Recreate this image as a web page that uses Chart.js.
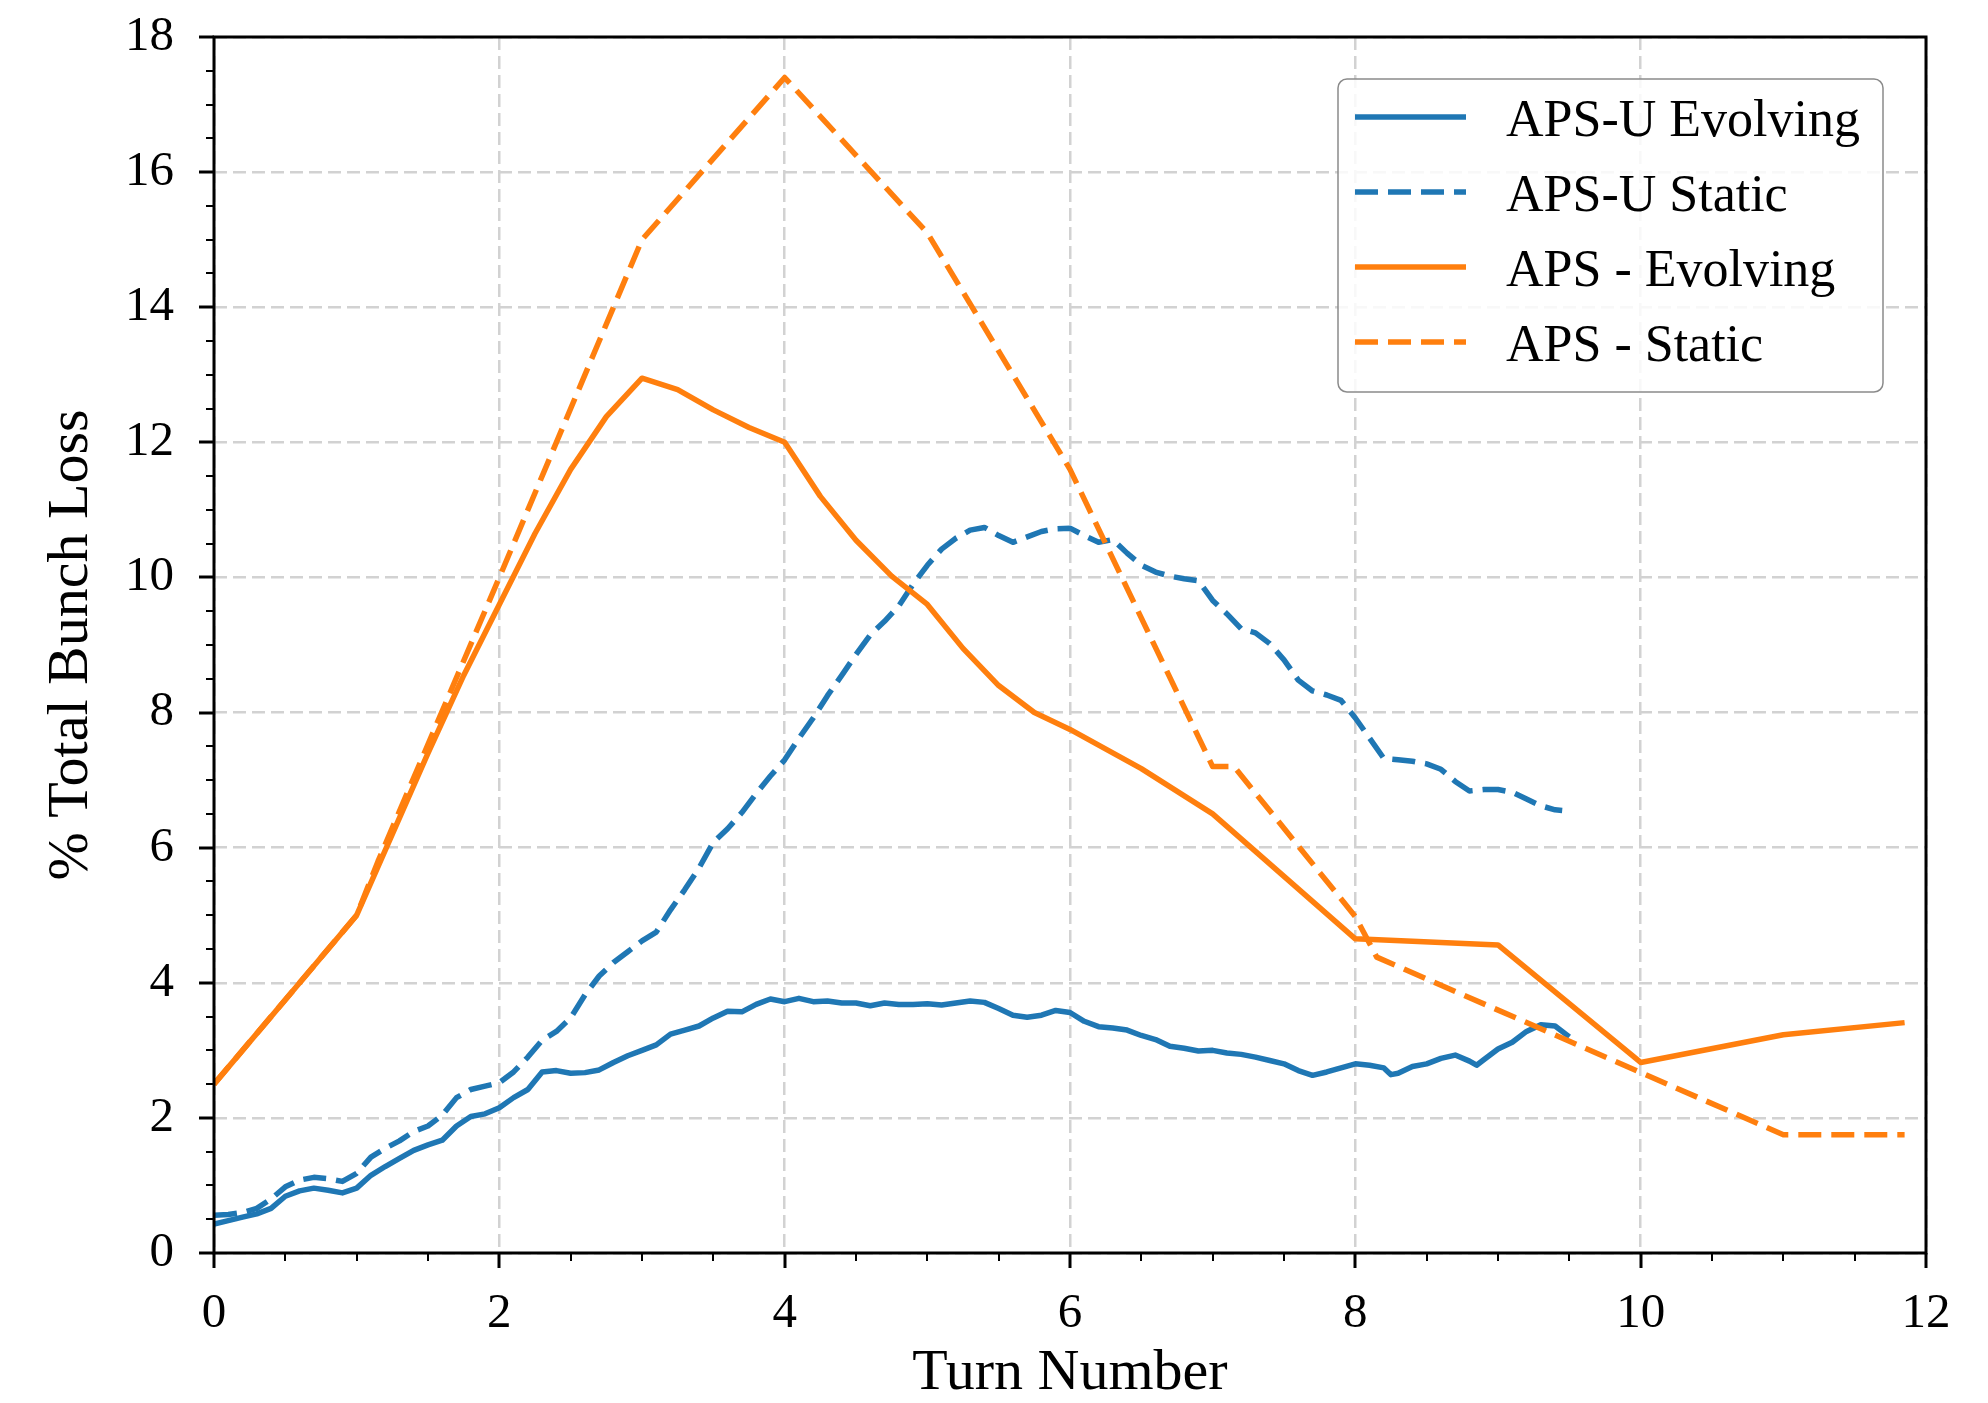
<!DOCTYPE html>
<html>
<head>
<meta charset="utf-8">
<script src="https://cdn.jsdelivr.net/npm/chart.js@4.4.1/dist/chart.umd.min.js"></script>
<style>
  html, body { margin: 0; padding: 0; background: #fff; }
  #wrap { width: 1988px; height: 1403px; }
</style>
</head>
<body>
<div id="wrap"><canvas id="myChart" width="1988" height="1403"></canvas></div>
<script>
// APS-U Evolving (blue solid)
const turnsUEvolving = [0.0, 0.1, 0.2, 0.3, 0.4, 0.5, 0.6, 0.7, 0.8, 0.9, 1.0, 1.1, 1.2, 1.3, 1.4, 1.5, 1.6, 1.7, 1.8, 1.9,
  2.0, 2.1, 2.2, 2.3, 2.4, 2.5, 2.6, 2.7, 2.8, 2.9, 3.0, 3.1, 3.2, 3.3, 3.4, 3.5, 3.6, 3.7, 3.8, 3.9,
  4.0, 4.1, 4.2, 4.3, 4.4, 4.5, 4.6, 4.7, 4.8, 4.9, 5.0, 5.1, 5.2, 5.3, 5.4, 5.5, 5.6, 5.7, 5.8, 5.9,
  6.0, 6.1, 6.2, 6.3, 6.4, 6.5, 6.6, 6.7, 6.8, 6.9, 7.0, 7.1, 7.2, 7.3, 7.4, 7.5, 7.6, 7.7, 7.8, 7.9,
  8.0, 8.1, 8.2, 8.25, 8.3, 8.4, 8.5, 8.6, 8.7, 8.8, 8.85, 8.9, 9.0, 9.1, 9.2, 9.3, 9.4, 9.5];
const lossUEvolving = [0.43, 0.48, 0.53, 0.58, 0.66, 0.84, 0.92, 0.96, 0.93, 0.89, 0.96, 1.15, 1.28, 1.40, 1.52, 1.60, 1.67, 1.88, 2.02, 2.06,
  2.15, 2.30, 2.42, 2.68, 2.70, 2.66, 2.67, 2.71, 2.82, 2.92, 3.00, 3.08, 3.24, 3.30, 3.36, 3.48, 3.58, 3.57, 3.68, 3.76,
  3.72, 3.77, 3.72, 3.73, 3.70, 3.70, 3.66, 3.70, 3.68, 3.68, 3.69, 3.67, 3.70, 3.73, 3.71, 3.62, 3.52, 3.49, 3.52, 3.59,
  3.56, 3.43, 3.35, 3.33, 3.30, 3.22, 3.16, 3.06, 3.03, 2.99, 3.00, 2.96, 2.94, 2.90, 2.85, 2.80, 2.70, 2.63, 2.68, 2.74,
  2.80, 2.78, 2.74, 2.64, 2.66, 2.76, 2.80, 2.88, 2.93, 2.84, 2.78, 2.86, 3.02, 3.12, 3.28, 3.38, 3.36, 3.20];

// APS-U Static (blue dashed)
const turnsUStatic = [0.0, 0.1, 0.2, 0.3, 0.4, 0.5, 0.6, 0.7, 0.8, 0.9, 1.0, 1.1, 1.2, 1.3, 1.4, 1.5, 1.6, 1.7, 1.8, 1.9,
  2.0, 2.1, 2.2, 2.3, 2.4, 2.5, 2.6, 2.7, 2.8, 2.9, 3.0, 3.1, 3.2, 3.3, 3.4, 3.5, 3.6, 3.7, 3.8, 3.9,
  4.0, 4.1, 4.2, 4.3, 4.4, 4.5, 4.6, 4.7, 4.8, 4.9, 5.0, 5.1, 5.2, 5.3, 5.4, 5.5, 5.6, 5.7, 5.8, 5.9,
  6.0, 6.1, 6.2, 6.3, 6.4, 6.5, 6.6, 6.7, 6.8, 6.9, 7.0, 7.1, 7.2, 7.3, 7.4, 7.5, 7.6, 7.7, 7.8, 7.9,
  8.0, 8.1, 8.2, 8.3, 8.4, 8.5, 8.6, 8.7, 8.8, 8.9, 9.0, 9.1, 9.2, 9.3, 9.4, 9.45];
const lossUStatic = [0.56, 0.57, 0.60, 0.66, 0.80, 0.98, 1.08, 1.12, 1.10, 1.06, 1.18, 1.42, 1.55, 1.66, 1.80, 1.88, 2.04, 2.30, 2.42, 2.47,
  2.52, 2.68, 2.90, 3.15, 3.28, 3.48, 3.82, 4.10, 4.30, 4.46, 4.62, 4.75, 5.08, 5.38, 5.70, 6.08, 6.28, 6.52, 6.80, 7.06,
  7.30, 7.62, 7.92, 8.25, 8.55, 8.86, 9.15, 9.35, 9.58, 9.90, 10.18, 10.42, 10.58, 10.70, 10.74, 10.62, 10.52, 10.60, 10.68, 10.72,
  10.73, 10.62, 10.52, 10.56, 10.36, 10.18, 10.08, 10.02, 9.98, 9.95, 9.66, 9.46, 9.24, 9.18, 9.02, 8.78, 8.48, 8.32, 8.26, 8.18,
  7.92, 7.62, 7.32, 7.30, 7.28, 7.24, 7.16, 6.98, 6.84, 6.86, 6.86, 6.82, 6.72, 6.62, 6.56, 6.55];

// APS - Evolving (orange solid)
const turnsEvolving = [0, 0.5, 1, 1.25, 1.5, 1.75, 2, 2.25, 2.5, 2.75, 3, 3.25, 3.5, 3.75, 4, 4.25, 4.5, 4.75, 5,
  5.25, 5.5, 5.75, 6, 6.5, 7, 8, 9, 10, 11, 11.85];
const lossEvolving = [2.5, 3.75, 5.0, 6.2, 7.4, 8.55, 9.6, 10.65, 11.6, 12.38, 12.95, 12.78, 12.48, 12.22, 12.0, 11.2, 10.55, 10.02, 9.6,
  8.95, 8.4, 8.0, 7.75, 7.17, 6.5, 4.65, 4.56, 2.82, 3.23, 3.41];

// APS - Static (orange dashed)
const turnsStatic = [0, 1, 1.15, 2, 3, 4, 5, 6, 7, 7.15, 8, 8.15, 11, 11.85];
const lossStatic = [2.5, 5.0, 5.8, 10.0, 15.0, 17.4, 15.1, 11.6, 7.2, 7.2, 4.98, 4.38, 1.75, 1.75];

const seriesLabels = ['APS-U Evolving', 'APS-U Static', 'APS - Evolving', 'APS - Static'];
const xTicks = [0, 2, 4, 6, 8, 10, 12];
const yTicks = [0, 2, 4, 6, 8, 10, 12, 14, 16, 18];

const blue = '#1f77b4';
const orange = '#ff7f0e';
const dashed = [23, 10];
const serif = '"Liberation Serif", "Times New Roman", serif';

function pts(xs, ys) {
  return xs.map((x, i) => ({ x: x, y: ys[i] }));
}

function makeSet(label, xs, ys, color, dash, order) {
  return {
    label: label,
    data: pts(xs, ys),
    borderColor: color,
    backgroundColor: color,
    borderWidth: 5.5,
    borderDash: dash,
    borderJoinStyle: 'round',
    borderCapStyle: 'butt',
    pointRadius: 0,
    tension: 0,
    fill: false,
    order: order
  };
}

const data = {
  datasets: [
    makeSet(seriesLabels[0], turnsUEvolving, lossUEvolving, blue, [], 4),
    makeSet(seriesLabels[1], turnsUStatic, lossUStatic, blue, dashed, 3),
    makeSet(seriesLabels[2], turnsEvolving, lossEvolving, orange, [], 2),
    makeSet(seriesLabels[3], turnsStatic, lossStatic, orange, dashed, 1)
  ]
};

// ticks, frame and boxed legend drawn matplotlib style
const framePlugin = {
  id: 'frame',
  afterDraw(chart) {
    const ctx = chart.ctx;
    const a = chart.chartArea;
    const xs = chart.scales.x, ys = chart.scales.y;
    ctx.save();
    ctx.strokeStyle = '#000';
    ctx.lineCap = 'butt';
    xs.ticks.forEach(t => {
      const major = xTicks.includes(t.value);
      const px = Math.round(xs.getPixelForValue(t.value));
      ctx.lineWidth = major ? 3 : 2;
      ctx.beginPath();
      ctx.moveTo(px, a.bottom);
      ctx.lineTo(px, a.bottom + (major ? 15 : 8));
      ctx.stroke();
    });
    ys.ticks.forEach(t => {
      const major = yTicks.includes(t.value);
      const py = Math.round(ys.getPixelForValue(t.value));
      ctx.lineWidth = major ? 3 : 2;
      ctx.beginPath();
      ctx.moveTo(a.left, py);
      ctx.lineTo(a.left - (major ? 15 : 8), py);
      ctx.stroke();
    });
    ctx.lineWidth = 3;
    ctx.strokeRect(a.left, a.top, a.right - a.left, a.bottom - a.top);

    // legend box
    const bx = 1338, by = 79, bw = 545, bh = 313;
    ctx.beginPath();
    ctx.roundRect(bx, by, bw, bh, 9);
    ctx.fillStyle = 'rgba(255,255,255,0.85)';
    ctx.fill();
    ctx.lineWidth = 1.5;
    ctx.strokeStyle = '#8a8a8a';
    ctx.stroke();
    chart.data.datasets.forEach((ds, i) => {
      const y = 117 + i * 75;
      ctx.beginPath();
      ctx.setLineDash(ds.borderDash);
      ctx.lineWidth = 5.5;
      ctx.strokeStyle = ds.borderColor;
      ctx.moveTo(1355, y);
      ctx.lineTo(1466, y);
      ctx.stroke();
      ctx.setLineDash([]);
      ctx.fillStyle = '#000';
      ctx.font = '52px ' + serif;
      ctx.textBaseline = 'alphabetic';
      ctx.textAlign = 'left';
      ctx.fillText(ds.label, 1506, y + 19);
    });
    ctx.restore();
  }
};

const config = {
  type: 'line',
  data: data,
  options: {
    responsive: false,
    animation: false,
    devicePixelRatio: 1,
    layout: { padding: { left: 0, right: 62, top: 37, bottom: 0 } },
    plugins: { legend: { display: false }, tooltip: { enabled: false } },
    scales: {
      x: {
        type: 'linear',
        min: 0,
        max: 12,
        afterFit: s => { s.height = 150; },
        ticks: {
          stepSize: 0.5,
          autoSkip: false,
          maxRotation: 0,
          padding: 32,
          color: '#000',
          font: { family: serif, size: 49 },
          callback: v => xTicks.includes(v) ? String(v) : ''
        },
        grid: {
          drawTicks: false,
          lineWidth: 2.5,
          color: c => (c.tick && xTicks.includes(c.tick.value)) ? '#d2d2d2' : 'rgba(0,0,0,0)'
        },
        border: { display: false, dash: [13, 6] },
        title: {
          display: true,
          text: 'Turn Number',
          color: '#000',
          font: { family: serif, size: 58, lineHeight: 1 },
          padding: { top: 0, bottom: 0 }
        }
      },
      y: {
        min: 0,
        max: 18,
        afterFit: s => { s.width = 214; s.paddingTop = 30; s.paddingBottom = 30; },
        ticks: {
          stepSize: 0.5,
          autoSkip: false,
          padding: 40,
          color: '#000',
          font: { family: serif, size: 49 },
          callback: v => yTicks.includes(v) ? String(v) : ''
        },
        grid: {
          drawTicks: false,
          lineWidth: 2.5,
          color: c => (c.tick && yTicks.includes(c.tick.value)) ? '#d2d2d2' : 'rgba(0,0,0,0)'
        },
        border: { display: false, dash: [13, 6] },
        title: {
          display: true,
          text: '% Total Bunch Loss',
          color: '#000',
          font: { family: serif, size: 58, lineHeight: 1 },
          padding: { top: 43, bottom: 0 }
        }
      }
    }
  },
  plugins: [framePlugin]
};

const myChart = new Chart(document.getElementById('myChart'), config);
</script>
</body>
</html>
